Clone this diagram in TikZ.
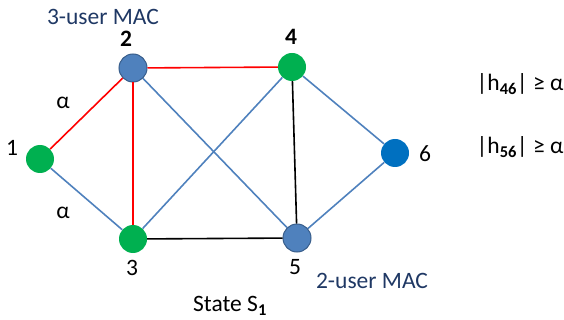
\documentclass[tikz,border=0pt]{standalone}
\usepackage{fontspec}
\setmainfont{Carlito}
\definecolor{macblue}{HTML}{4F81BD}
\definecolor{macedge}{HTML}{385D8A}
\definecolor{usergreen}{HTML}{00B050}
\definecolor{brightblue}{HTML}{0070C0}
\definecolor{navytext}{HTML}{1F3864}
\tikzset{
  user/.style={circle,minimum size=28pt,inner sep=0pt,fill=usergreen},
  mac/.style={circle,minimum size=28pt,inner sep=0pt,fill=macblue,draw=macedge,line width=1pt},
  dest/.style={circle,minimum size=28pt,inner sep=0pt,fill=brightblue},
  lbl/.style={font=\fontsize{23.5}{28}\selectfont},
  redlink/.style={red,line width=1.6pt},
  bluelink/.style={macblue,line width=1.6pt},
  blacklink/.style={black,line width=1.6pt}
}
\begin{document}
\begin{tikzpicture}[x=1pt,y=-1pt]
\useasboundingbox (0,0) rectangle (564,320);
\node[user] (n1) at (40,159) {};
\node[mac] (n2) at (133,68) {};
\node[user] (n3) at (133,239) {};
\node[user] (n4) at (292,67) {};
\node[mac] (n5) at (297,238) {};
\node[dest] (n6) at (395,153) {};
% links
\draw[bluelink] (n1) -- (n3);
\draw[bluelink] (n2) -- (n5);
\draw[bluelink] (n3) -- (n4);
\draw[bluelink] (n4) -- (n6);
\draw[bluelink] (n5) -- (n6);
\draw[blacklink] (n3) -- (n5);
\draw[blacklink] (n4) -- (n5);
\draw[redlink] (n1) -- (n2);
\draw[redlink] (n2) -- (n3);
\draw[redlink] (n2) -- (n4);
% labels
\node[lbl] (l1) at (12,148) {1};
\node[lbl,font=\fontsize{23.5}{28}\selectfont\bfseries] (l2) at (126,39) {2};
\node[lbl] (l3) at (132,268) {3};
\node[lbl,font=\fontsize{23.5}{28}\selectfont\bfseries] (l4) at (291,37) {4};
\node[lbl] (l5) at (295,267) {5};
\node[lbl] (l6) at (425,154) {6};
\node[lbl] (a12) at (63,103) {α};
\node[lbl] (a13) at (63,213) {α};
\node[lbl,text=navytext] (mac3) at (103,17) {3-user MAC};
\node[lbl,text=navytext] (mac2) at (372,281) {2-user MAC};
\node[lbl] (h46) at (520,84) {|h\textsubscript{\textbf{46}}| ≥ α};
\node[lbl] (h56) at (520,147) {|h\textsubscript{\textbf{56}}| ≥ α};
\node[lbl] (state) at (230,306) {State S\textsubscript{\textbf{1}}};
\end{tikzpicture}
\end{document}
